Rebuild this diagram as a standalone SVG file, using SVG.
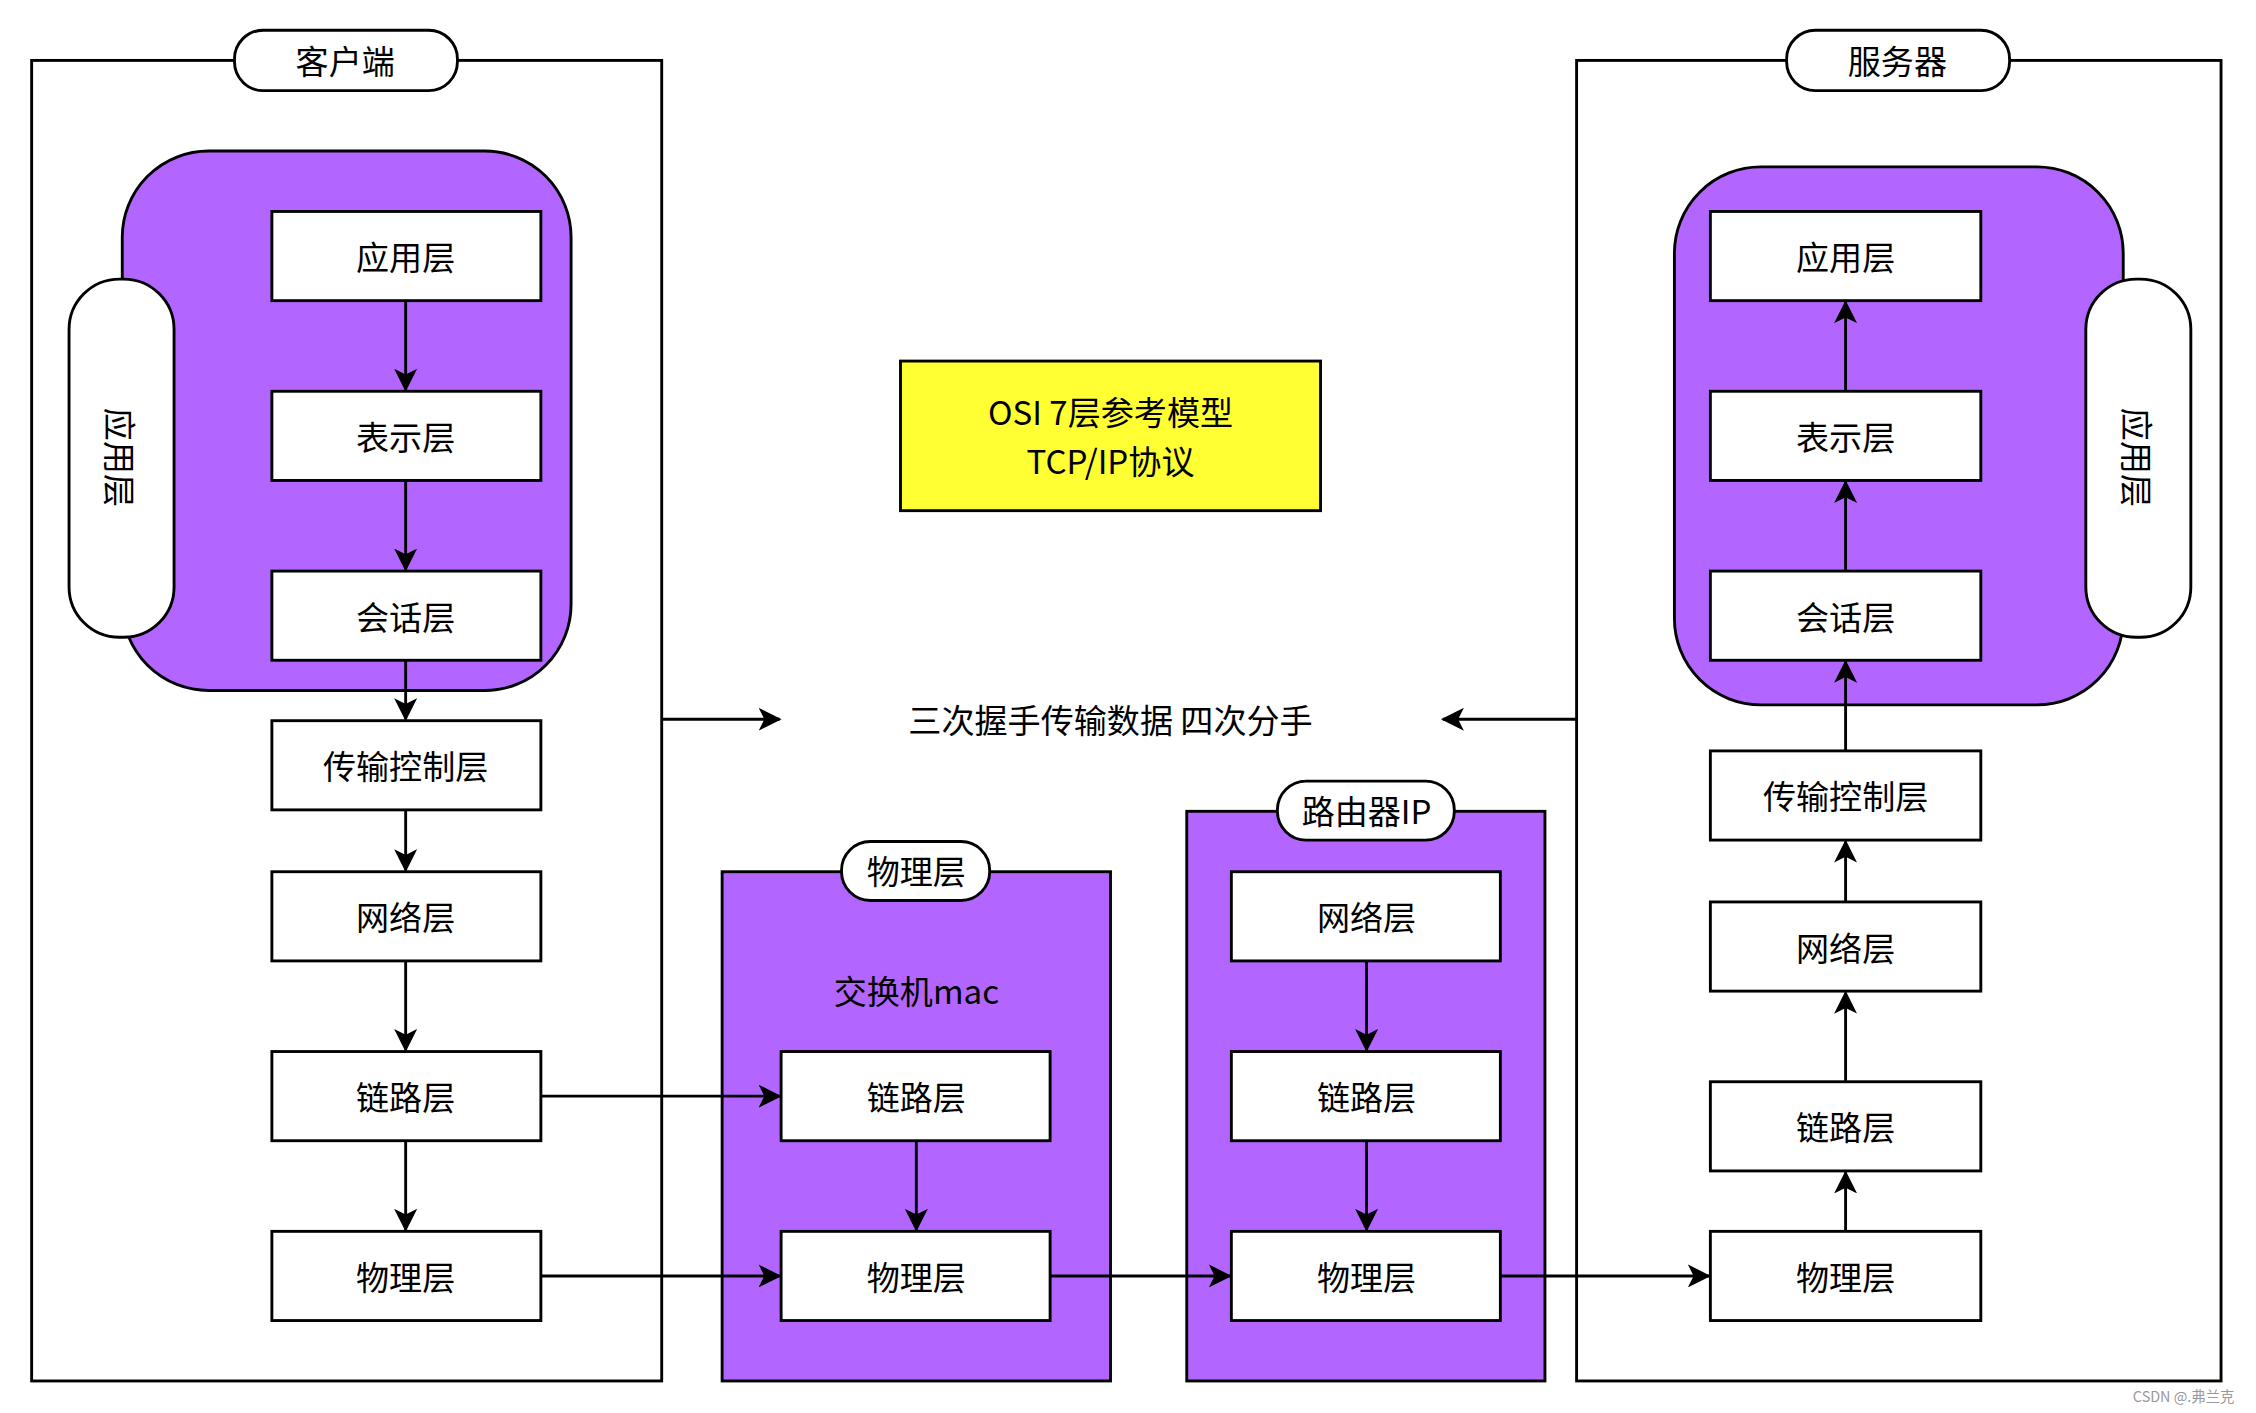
<svg xmlns="http://www.w3.org/2000/svg" width="2256" height="1413" viewBox="0 0 2256 1413">
<defs>
<marker id="ah" viewBox="0 0 12 12" refX="11" refY="6" markerWidth="16" markerHeight="16" markerUnits="userSpaceOnUse" orient="auto"><path d="M0,0 L12,6 L0,12 L3,6 Z" fill="#000"/></marker>
<style>
text{font-family:"Noto Sans CJK SC","Liberation Sans",sans-serif;font-size:23px;text-anchor:middle;dominant-baseline:central;fill:#000}
.b{fill:#fff;stroke:#000;stroke-width:2}
.p{fill:#b266ff;stroke:#000;stroke-width:2}
.o{fill:#fff;stroke:#000;stroke-width:2}
.c line{stroke:#000;stroke-width:2;marker-end:url(#ah)}
</style>
</defs>
<rect width="2256" height="1413" fill="#fff"/>
<g transform="scale(1.4385)">
<g id="client"><rect class="o" x="22" y="42" width="438" height="918"/><rect class="b" x="163" y="21" width="155" height="42" rx="20"/><text x="240" y="42">客户端</text></g>
<g id="client-app"><rect class="p" x="85" y="105" width="312" height="375" rx="60"/></g>
<g id="client-side"><rect class="b" x="48" y="194" width="73" height="249" rx="35"/><text transform="translate(84,318) rotate(90)">应用层</text></g>
<g id="c1"><rect class="b" x="189" y="147" width="187" height="62"/><text x="282" y="178">应用层</text></g>
<g id="c2"><rect class="b" x="189" y="272" width="187" height="62"/><text x="282" y="303">表示层</text></g>
<g id="c3"><rect class="b" x="189" y="397" width="187" height="62"/><text x="282" y="428">会话层</text></g>
<g id="c4"><rect class="b" x="189" y="501" width="187" height="62"/><text x="282" y="532">传输控制层</text></g>
<g id="c5"><rect class="b" x="189" y="606" width="187" height="62"/><text x="282" y="637">网络层</text></g>
<g id="c6"><rect class="b" x="189" y="731" width="187" height="62"/><text x="282" y="762">链路层</text></g>
<g id="c7"><rect class="b" x="189" y="856" width="187" height="62"/><text x="282" y="887">物理层</text></g>
<g id="osi"><rect x="626" y="251" width="292" height="104" fill="#ffff33" stroke="#000" stroke-width="2"/><text x="772" y="286">OSI 7层参考模型</text><text x="772" y="320">TCP/IP协议</text></g>
<g id="handshake"><text x="772" y="500">三次握手传输数据 四次分手</text></g>
<g id="switch"><rect class="p" x="502" y="606" width="270" height="354"/><rect class="b" x="585" y="585" width="103" height="41" rx="20"/><text x="637" y="605">物理层</text><text x="637" y="688">交换机mac</text></g>
<g id="s1"><rect class="b" x="543" y="731" width="187" height="62"/><text x="637" y="762">链路层</text></g>
<g id="s2"><rect class="b" x="543" y="856" width="187" height="62"/><text x="637" y="887">物理层</text></g>
<g id="router"><rect class="p" x="825" y="564" width="249" height="396"/><rect class="b" x="888" y="543" width="123" height="41" rx="20"/><text x="950" y="563">路由器IP</text></g>
<g id="r1"><rect class="b" x="856" y="606" width="187" height="62"/><text x="950" y="637">网络层</text></g>
<g id="r2"><rect class="b" x="856" y="731" width="187" height="62"/><text x="950" y="762">链路层</text></g>
<g id="r3"><rect class="b" x="856" y="856" width="187" height="62"/><text x="950" y="887">物理层</text></g>
<g id="server"><rect class="o" x="1096" y="42" width="448" height="918"/><rect class="b" x="1242" y="21" width="155" height="42" rx="20"/><text x="1319" y="42">服务器</text></g>
<g id="server-app"><rect class="p" x="1164" y="116" width="312" height="374" rx="60"/></g>
<g id="server-side"><rect class="b" x="1450" y="194" width="73" height="249" rx="35"/><text transform="translate(1486,318) rotate(90)">应用层</text></g>
<g id="v1"><rect class="b" x="1189" y="147" width="188" height="62"/><text x="1283" y="178">应用层</text></g>
<g id="v2"><rect class="b" x="1189" y="272" width="188" height="62"/><text x="1283" y="303">表示层</text></g>
<g id="v3"><rect class="b" x="1189" y="397" width="188" height="62"/><text x="1283" y="428">会话层</text></g>
<g id="v4"><rect class="b" x="1189" y="522" width="188" height="62"/><text x="1283" y="553">传输控制层</text></g>
<g id="v5"><rect class="b" x="1189" y="627" width="188" height="62"/><text x="1283" y="658">网络层</text></g>
<g id="v6"><rect class="b" x="1189" y="752" width="188" height="62"/><text x="1283" y="783">链路层</text></g>
<g id="v7"><rect class="b" x="1189" y="856" width="188" height="62"/><text x="1283" y="887">物理层</text></g>
<g class="c" id="connectors">
<line x1="282" y1="209" x2="282" y2="271"/><line x1="282" y1="334" x2="282" y2="396"/><line x1="282" y1="459" x2="282" y2="500"/><line x1="282" y1="563" x2="282" y2="605"/><line x1="282" y1="668" x2="282" y2="730"/><line x1="282" y1="793" x2="282" y2="855"/>
<line x1="460" y1="500" x2="542" y2="500"/><line x1="1096" y1="500" x2="1003" y2="500"/>
<line x1="376" y1="762" x2="542" y2="762"/><line x1="376" y1="887" x2="542" y2="887"/>
<line x1="637" y1="793" x2="637" y2="855"/>
<line x1="730" y1="887" x2="855" y2="887"/>
<line x1="950" y1="668" x2="950" y2="730"/><line x1="950" y1="793" x2="950" y2="855"/>
<line x1="1043" y1="887" x2="1188" y2="887"/>
<line x1="1283" y1="856" x2="1283" y2="815"/><line x1="1283" y1="752" x2="1283" y2="690"/><line x1="1283" y1="627" x2="1283" y2="585"/><line x1="1283" y1="522" x2="1283" y2="460"/><line x1="1283" y1="397" x2="1283" y2="335"/><line x1="1283" y1="272" x2="1283" y2="210"/>
</g>
<text x="1518" y="970" style="font-size:10px;fill:#999">CSDN @.弗兰克</text>
</g>
</svg>
